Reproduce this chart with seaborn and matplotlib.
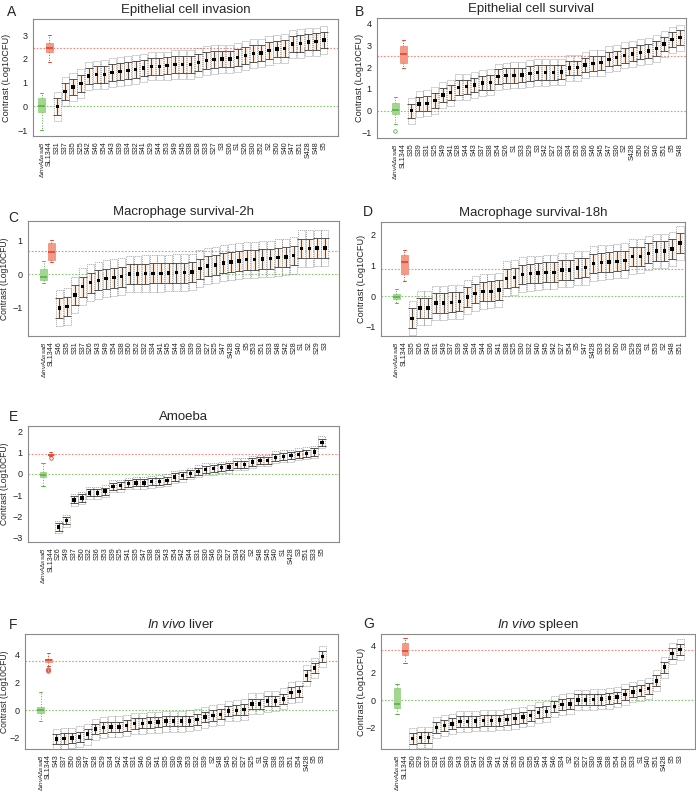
import numpy as np
import pandas as pd
import seaborn as sns
from matplotlib import pyplot as plt
from matplotlib.ticker import MultipleLocator

sns.set_style('white')
plt.rcParams['font.family'] = ['Liberation Sans', 'DejaVu Sans']
plt.rcParams['mathtext.fontset'] = 'custom'
plt.rcParams['mathtext.rm'] = 'Liberation Sans'
plt.rcParams['mathtext.it'] = 'Liberation Sans:italic'

controls = [r'$\Delta\mathit{invA}\Delta\mathit{ssaB}$', 'SL1344']

# A - epithelial cell invasion
a_strains = ['S31', 'S37', 'S35', 'S25', 'S42', 'S46', 'S54', 'S43', 'S39', 'S34', 'S32', 'S41', 'S29', 'S44', 'S53',
             'S49', 'S45', 'S38', 'S28', 'S33', 'S27', 'S3', 'S36', 'S1', 'S26', 'S30', 'S52', 'S2', 'S50', 'S40',
             'S47', 'S51', 'S428', 'S48', 'S5']
a_means = [0.0, 0.62, 0.82, 0.96, 1.28, 1.33, 1.35, 1.43, 1.46, 1.5, 1.56, 1.61, 1.69, 1.69, 1.71,
           1.76, 1.76, 1.76, 1.85, 1.93, 1.97, 1.99, 2.0, 2.06, 2.14, 2.22, 2.24, 2.36, 2.42, 2.43,
           2.62, 2.65, 2.71, 2.72, 2.79]
a_green = [-1.0, -0.25, 0.03, 0.35, 0.55]
a_red = [1.85, 2.3, 2.45, 2.65, 3.0]
a_red_line = 2.47

# B - epithelial cell survival
b_strains = ['S35', 'S39', 'S31', 'S25', 'S49', 'S41', 'S28', 'S44', 'S43', 'S37', 'S38', 'S54', 'S26', 'S1', 'S33',
             'S29', 'S3', 'S42', 'S27', 'S32', 'S34', 'S53', 'S36', 'S46', 'S45', 'S47', 'S30', 'S2', 'S428', 'S50',
             'S52', 'S40', 'S51', 'S5', 'S48']
b_means = [0.0, 0.31, 0.34, 0.47, 0.73, 0.83, 1.07, 1.1, 1.18, 1.27, 1.3, 1.56, 1.61, 1.62, 1.64,
           1.71, 1.75, 1.75, 1.76, 1.78, 1.96, 1.97, 2.1, 2.17, 2.2, 2.36, 2.43, 2.54, 2.6, 2.68,
           2.74, 2.85, 3.05, 3.26, 3.35]
b_green = [-0.6, -0.15, 0.05, 0.35, 0.65]
b_green_out = [-0.95]
b_red = [1.98, 2.18, 2.58, 2.95, 3.23]
b_red_line = 2.53

# C - macrophage survival 2h
c_strains = ['S46', 'S35', 'S31', 'S37', 'S26', 'S43', 'S49', 'S54', 'S38', 'S50', 'S52', 'S32', 'S34', 'S41', 'S45',
             'S44', 'S36', 'S39', 'S30', 'S27', 'S25', 'S47', 'S428', 'S40', 'S5', 'S53', 'S51', 'S33', 'S48', 'S42',
             'S28', 'S1', 'S2', 'S29', 'S3']
c_means = [-1.03, -0.98, -0.63, -0.38, -0.26, -0.19, -0.14, -0.11, -0.08, 0.0, 0.0, 0.01, 0.02, 0.02, 0.03,
           0.04, 0.04, 0.06, 0.16, 0.24, 0.27, 0.33, 0.36, 0.39, 0.43, 0.43, 0.45, 0.46, 0.5, 0.51,
           0.56, 0.77, 0.77, 0.78, 0.79]
c_green = [-0.27, -0.18, -0.08, 0.15, 0.4]
c_red = [0.35, 0.42, 0.65, 0.95, 1.03]
c_red_line = 0.68

# D - macrophage survival 18h
d_strains = ['S35', 'S26', 'S43', 'S31', 'S49', 'S37', 'S39', 'S46', 'S34', 'S44', 'S36', 'S41', 'S38', 'S25', 'S30',
             'S32', 'S40', 'S45', 'S42', 'S27', 'S54', 'S5', 'S47', 'S428', 'S33', 'S52', 'S50', 'S3', 'S29', 'S28',
             'S1', 'S53', 'S2', 'S48', 'S51']
d_means = [-0.72, -0.38, -0.38, -0.22, -0.22, -0.2, -0.18, -0.03, 0.09, 0.15, 0.16, 0.2, 0.58, 0.61, 0.71,
           0.74, 0.75, 0.78, 0.78, 0.85, 0.86, 0.92, 0.93, 1.07, 1.1, 1.12, 1.14, 1.16, 1.29, 1.3,
           1.4, 1.47, 1.48, 1.54, 1.73]
d_green = [-0.22, -0.1, -0.02, 0.07, 0.22]
d_red = [0.5, 0.73, 1.1, 1.35, 1.52]
d_red_line = 0.88

# E - amoeba
e_strains = ['S26', 'S49', 'S37', 'S50', 'S32', 'S36', 'S53', 'S39', 'S25', 'S41', 'S35', 'S47', 'S38', 'S28', 'S43',
             'S54', 'S42', 'S44', 'S31', 'S30', 'S46', 'S29', 'S27', 'S34', 'S52', 'S2', 'S48', 'S45', 'S40', 'S1',
             'S428', 'S3', 'S51', 'S33', 'S5']
e_means = [-2.5, -2.2, -1.22, -1.13, -0.89, -0.89, -0.81, -0.59, -0.55, -0.45, -0.42, -0.42, -0.37, -0.35, -0.3,
           -0.15, -0.08, 0.02, 0.12, 0.22, 0.25, 0.3, 0.33, 0.45, 0.45, 0.56, 0.63, 0.63, 0.78, 0.83,
           0.86, 0.92, 0.97, 1.03, 1.48]
e_green = [-0.55, -0.15, -0.05, 0.08, 0.5]
e_red = [0.83, 0.88, 0.9, 0.93, 1.02]
e_red_out = [0.75]
e_red_line = 0.92

# F - in vivo liver
f_strains = ['S43', 'S37', 'S50', 'S36', 'S47', 'S28', 'S29', 'S34', 'S42', 'S44', 'S31', 'S46', 'S26', 'S41', 'S35',
             'S30', 'S49', 'S53', 'S32', 'S39', 'S2', 'S48', 'S45', 'S52', 'S27', 'S25', 'S1', 'S40', 'S38', 'S33',
             'S51', 'S54', 'S428', 'S5', 'S3']
f_means = [-2.09, -2.04, -2.01, -1.92, -1.73, -1.37, -1.25, -1.2, -1.2, -1.1, -0.96, -0.94, -0.89, -0.86, -0.79,
           -0.79, -0.79, -0.77, -0.67, -0.5, -0.38, -0.29, -0.05, 0.0, 0.07, 0.46, 0.46, 0.65, 0.67, 0.82,
           1.27, 1.34, 2.49, 3.05, 3.88]
f_green = [-0.75, -0.2, 0.0, 0.2, 1.35]
f_red = [3.2, 3.5, 3.6, 3.7, 4.1]
f_red_out = [2.8, 2.9, 3.0]
f_red_line = 3.58

# G - in vivo spleen
g_strains = ['S50', 'S29', 'S37', 'S28', 'S31', 'S39', 'S43', 'S36', 'S47', 'S32', 'S49', 'S41', 'S42', 'S53', 'S26',
             'S35', 'S45', 'S44', 'S46', 'S34', 'S2', 'S52', 'S27', 'S30', 'S48', 'S38', 'S54', 'S25', 'S33', 'S1',
             'S40', 'S51', 'S428', 'S5', 'S3']
g_means = [-2.8, -2.72, -2.7, -1.98, -1.83, -1.73, -1.57, -1.57, -1.52, -1.49, -1.47, -1.45, -1.42, -1.35, -1.23,
           -1.11, -0.89, -0.84, -0.48, -0.34, -0.27, 0.02, 0.02, 0.05, 0.07, 0.14, 0.22, 0.39, 0.6, 0.7,
           0.84, 1.4, 2.39, 3.4, 3.69]
g_green = [-1.0, -0.55, -0.25, 0.85, 1.15]
g_red = [2.7, 3.3, 3.6, 4.15, 4.5]
g_red_line = 3.65

W, H = 696, 795


def panel(ax, strains, means, green, red, red_line, inner, outer, ylim, xlim, title, label_x,
          green_out=(), red_out=(), label_size=6.6):
    labels = controls + strains
    # control boxes
    for lab, vals, face, dark in [(controls[0], green, '#a3d68f', '#5cb04a'), (controls[1], red, '#f39a87', '#e2432f')]:
        sns.boxplot(x=[lab] * len(vals), y=vals, order=labels, ax=ax, whis=(0, 100), width=0.85,
                    color=face, saturation=1, linecolor=face, linewidth=0.7, fliersize=0,
                    whiskerprops=dict(linestyle=':', color=dark), capprops=dict(color=dark),
                    medianprops=dict(color=dark, linewidth=1.2), boxprops=dict(edgecolor=face))
    ax.plot([0] * len(green_out), green_out, 'o', mfc='none', mec='#5cb04a', ms=2.5, mew=0.6)
    ax.plot([1] * len(red_out), red_out, 'o', mfc='none', mec='#e2432f', ms=2.5, mew=0.6)

    pos = np.arange(2, 2 + len(means))
    m = np.array(means)
    ax.bar(pos, 2 * inner, bottom=m - inner, width=0.65, color='#fde6d1', zorder=1)
    ax.bar(pos, 2 * outer, bottom=m - outer, width=0.9, fill=False, edgecolor='#777777',
           linestyle=(0, (2, 1.5)), linewidth=0.4, zorder=2)
    ax.errorbar(pos, m, yerr=inner, fmt='none', ecolor='#3a3a3a', elinewidth=0.6,
                capsize=2.6, capthick=0.6, zorder=3)
    sns.scatterplot(x=pos, y=m, marker='s', s=6, color='black', edgecolor='none', zorder=4, ax=ax)

    ax.axhline(red_line, color='#f08a80', ls=(0, (1.5, 1.5)), lw=0.8, zorder=0)
    ax.axhline(0, color='#86c877', ls=(0, (1.5, 1.5)), lw=0.8, zorder=0)

    ax.set_xticks(range(len(labels)))
    ax.set_xticklabels(labels, rotation=90, fontsize=5.1)
    ax.get_xticklabels()[0].set_fontsize(4.6)
    ax.set_xlim(*xlim)
    ax.set_ylim(*ylim)
    ax.yaxis.set_major_locator(MultipleLocator(1 if ylim[1] - ylim[0] < 7 else 2))
    ax.tick_params(axis='both', length=2.5, width=0.6, colors='#444444', pad=1.5)
    ax.tick_params(axis='x', labelcolor='#222222')
    ax.tick_params(axis='y', labelsize=6.5, labelcolor='#222222')
    ax.set_xlabel('')
    ax.set_ylabel('Contrast (Log10CFU)', fontsize=label_size)
    bb = ax.get_position()
    ax.yaxis.set_label_coords((label_x / W - bb.x0) / bb.width, 0.5)
    for s in ax.spines.values():
        s.set_color('#8a8a8a')
        s.set_linewidth(0.8)
    ax.set_title(title, fontsize=9.5, pad=4)


fig = plt.figure(figsize=(W / 100, H / 100), dpi=100)


def box(l, r, t, b):
    return fig.add_axes([l / W, 1 - b / H, (r - l) / W, (b - t) / H])


axA = box(33, 338, 19, 136)
axB = box(377, 686, 18, 138)
axC = box(28, 339, 221, 336)
axD = box(381, 685, 222, 336)
axE = box(28, 339, 426, 542)
axF = box(25, 338, 634, 749)
axG = box(381, 695, 634, 749)

panel(axA, a_strains, a_means, a_green, a_red, a_red_line, 0.35, 0.6, (-1.25, 3.68), (-1.1, 37.8),
      'Epithelial cell invasion', 11)
panel(axB, b_strains, b_means, b_green, b_red, b_red_line, 0.33, 0.6, (-1.25, 4.25), (-2.33, 36.76),
      'Epithelial cell survival', 364, green_out=b_green_out)
panel(axC, c_strains, c_means, c_green, c_red, c_red_line, 0.3, 0.55, (-1.87, 1.6), (-2.0, 37.8),
      'Macrophage survival-2h', 9.5, label_size=6.2)
panel(axD, d_strains, d_means, d_green, d_red, d_red_line, 0.32, 0.56, (-1.3, 2.42), (-1.96, 36.64),
      'Macrophage survival-18h', 366)
panel(axE, e_strains, e_means, e_green, e_red, e_red_line, 0.17, 0.28, (-3.2, 2.25), (-1.95, 38.2),
      'Amoeba', 9.5, red_out=e_red_out, label_size=6.2)
panel(axF, f_strains, f_means, f_green, f_red, f_red_line, 0.38, 0.75, (-2.8, 5.5), (-2.0, 38.0),
      r'$\mathit{In\ vivo}$ liver', 9.5, red_out=f_red_out, label_size=6.2)
panel(axG, g_strains, g_means, g_green, g_red, g_red_line, 0.4, 0.75, (-3.55, 4.8), (-2.04, 37.9),
      r'$\mathit{In\ vivo}$ spleen', 366)

for ax in [axC, axD]:
    ax.yaxis.set_minor_locator(MultipleLocator(0.5))
    ax.tick_params(axis='y', which='minor', length=2, width=0.6, colors='#444444')

for letter, x, y in [('A', 12, 12), ('B', 360, 12), ('C', 13, 218), ('D', 368, 212),
                     ('E', 13, 417), ('F', 13, 625), ('G', 369, 624)]:
    fig.text(x / W, 1 - y / H, letter, fontsize=10, ha='center', va='center')

fig.savefig('out.png', dpi=100)
